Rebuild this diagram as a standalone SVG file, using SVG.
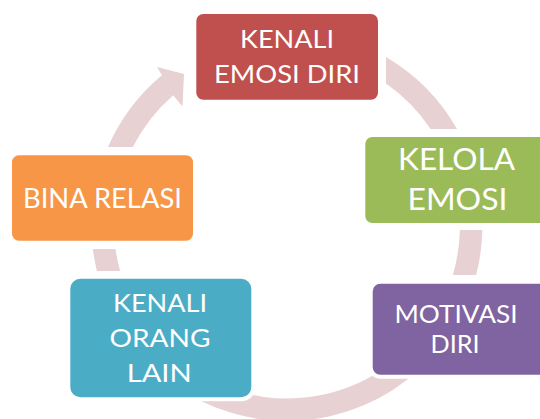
<svg xmlns="http://www.w3.org/2000/svg" width="540" height="419" viewBox="0 0 540 419">
  <style>
    .ring { fill: #E8D1D2; stroke: none; }
    .box { stroke: #FFFFFF; stroke-width: 4; }
    .lbl { fill: #FFFFFF; font-family: Lato, "Open Sans", "Liberation Sans", sans-serif; text-anchor: middle; }
  </style>
  <rect width="540" height="419" fill="#FFFFFF"/>
  <g id="connectors">
    <path class="ring" d="M386,56.9 A195.5,195.5 0 0 1 457,129 L430.6,129 A173,173 0 0 0 386,83.6 Z"/>
    <path class="ring" d="M482.4,230 A195.5,195.5 0 0 1 476.1,275 L452.8,275 A173,173 0 0 0 459.9,230 Z"/>
    <path class="ring" d="M420,368.8 A195.5,195.5 0 0 1 170,382.1 L170,352.9 A173,173 0 0 0 420,336.1 Z"/>
    <path class="ring" d="M96.9,271 A195.5,195.5 0 0 1 92.9,249 L115.6,249 A173,173 0 0 0 120.1,271 Z"/>
    <path class="ring" d="M132.8,147 L108,147 A195.5,195.5 0 0 1 161.9,75.3 L157,67 L184,74 L182.5,106.5 L173.2,95.2 A173,173 0 0 0 132.8,147 Z"/>
  </g>
  <g id="node-kenali-emosi-diri">
    <rect class="box" x="194.3" y="12" width="185.7" height="89.7" rx="9" fill="#C0504D"/>
    <text class="lbl" x="287" y="47.7" font-size="24.7" textLength="94" lengthAdjust="spacingAndGlyphs">KENALI</text>
    <text class="lbl" x="287" y="83.3" font-size="24.7" textLength="146" lengthAdjust="spacingAndGlyphs">EMOSI DIRI</text>
  </g>
  <g id="node-kelola-emosi">
    <rect class="box" x="363.3" y="135" width="185.7" height="90" rx="9" fill="#9BBB59"/>
    <text class="lbl" x="456.5" y="170" font-size="30.3" textLength="117" lengthAdjust="spacingAndGlyphs">KELOLA</text>
    <text class="lbl" x="457.5" y="210" font-size="30.3" textLength="100" lengthAdjust="spacingAndGlyphs">EMOSI</text>
  </g>
  <g id="node-motivasi-diri">
    <rect class="box" x="370.7" y="281.7" width="185.7" height="95" rx="9.5" fill="#8064A2"/>
    <text class="lbl" x="456" y="322.7" font-size="24.8" textLength="123" lengthAdjust="spacingAndGlyphs">MOTIVASI</text>
    <text class="lbl" x="455" y="352.7" font-size="24.8" textLength="49" lengthAdjust="spacingAndGlyphs">DIRI</text>
  </g>
  <g id="node-kenali-orang-lain">
    <rect class="box" x="68.3" y="276.7" width="185" height="122.6" rx="12" fill="#4BACC6"/>
    <text class="lbl" x="160" y="311.7" font-size="25.5" textLength="94" lengthAdjust="spacingAndGlyphs">KENALI</text>
    <text class="lbl" x="160" y="346.7" font-size="25.5" textLength="101" lengthAdjust="spacingAndGlyphs">ORANG</text>
    <text class="lbl" x="159.2" y="382.3" font-size="25.5" textLength="65" lengthAdjust="spacingAndGlyphs">LAIN</text>
  </g>
  <g id="node-bina-relasi">
    <rect class="box" x="10" y="153.3" width="185" height="89.4" rx="9" fill="#F79646"/>
    <text class="lbl" x="102.5" y="207.7" font-size="27" textLength="159" lengthAdjust="spacingAndGlyphs">BINA RELASI</text>
  </g>
</svg>
